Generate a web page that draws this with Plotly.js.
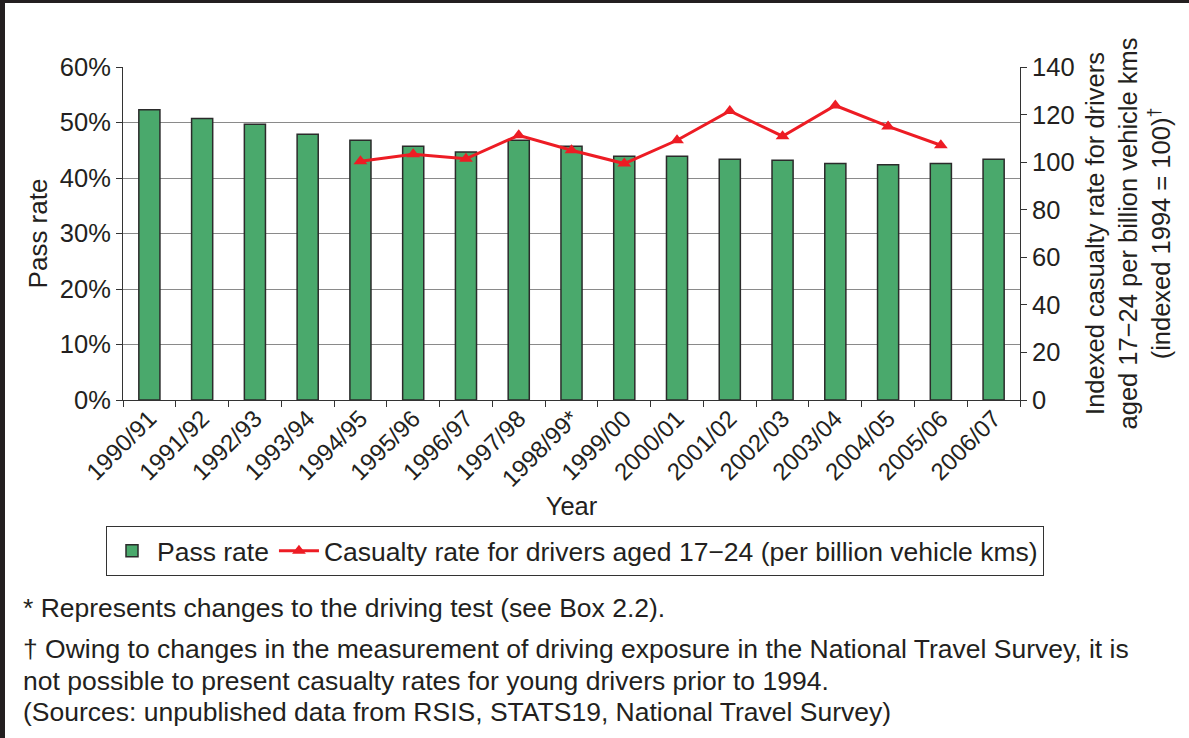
<!DOCTYPE html>
<html>
<head>
<meta charset="utf-8">
<script src="https://cdn.plot.ly/plotly-3.0.1.min.js"></script>
<style>
html,body{margin:0;padding:0;background:#fff;}
#chart{width:1189px;height:738px;}
</style>
</head>
<body>
<div id="chart"></div>
<script>
// ---- data ----
const years = ["1990/91","1991/92","1992/93","1993/94","1994/95","1995/96","1996/97","1997/98","1998/99*","1999/00","2000/01","2001/02","2002/03","2003/04","2004/05","2005/06","2006/07"];
const passRate = [52.3,50.7,49.7,47.9,46.8,45.7,44.7,46.8,45.7,43.9,43.9,43.4,43.2,42.6,42.4,42.6,43.4];
const casualtyYears = ["1994/95","1995/96","1996/97","1997/98","1998/99*","1999/00","2000/01","2001/02","2002/03","2003/04","2004/05","2005/06"];
const casualtyIndex = [100.4,103.3,101.4,111.3,105.0,99.4,109.2,121.5,110.9,123.8,115.0,107.1];
const leftTicks = [0,10,20,30,40,50,60];
const leftTickText = ["0%","10%","20%","30%","40%","50%","60%"];
const rightTicks = [0,20,40,60,80,100,120,140];
const footnotes = [
  "* Represents changes to the driving test (see Box 2.2).",
  "† Owing to changes in the measurement of driving exposure in the National Travel Survey, it is",
  "not possible to present casualty rates for young drivers prior to 1994.",
  "(Sources: unpublished data from RSIS, STATS19, National Travel Survey)"
];

// ---- geometry helpers ----
const W = 1189, H = 738;
const M = {l:123, r:169, t:67, b:338};
const PW = W - M.l - M.r, PH = H - M.t - M.b;
const px2x = p => (p - M.l) / PW;
const py2y = p => (H - M.b - p) / PH;

const FONT = '"Liberation Sans", Arial, Helvetica, sans-serif';
const TXT = '#231f20';

const traces = [
  {
    type:'bar', x: years, y: passRate, name:'Pass rate',
    marker:{color:'#4aa96c', line:{color:'#2b2b2b', width:1.5}},
    yaxis:'y', hoverinfo:'x+y'
  },
  {
    type:'scatter', mode:'lines+markers', x: casualtyYears, y: casualtyIndex,
    name:'Casualty rate for drivers aged 17\u221224 (per billion vehicle kms)',
    line:{color:'#ed1c24', width:3},
    marker:{symbol:'triangle-up', size:12, color:'#ed1c24'},
    yaxis:'y2'
  }
];

const annotations = footnotes.map((t,i)=>({
  text:t, xref:'paper', yref:'paper', x:px2x(21), y:py2y([608,649,681,712][i]),
  xanchor:'left', yanchor:'middle', showarrow:false, align:'left',
  font:{family:FONT, size:26.5, color:TXT}
}));

const layout = {
  width:W, height:H,
  margin:{l:M.l, r:M.r, t:M.t, b:M.b, pad:0},
  paper_bgcolor:'#fff', plot_bgcolor:'#fff',
  font:{family:FONT, size:25, color:TXT},
  bargap:0.6,
  showlegend:true,
  legend:{
    orientation:'h', x:px2x(106), y:py2y(526), xanchor:'left', yanchor:'top',
    bordercolor:'#333', borderwidth:1, bgcolor:'#fff',
    font:{family:FONT, size:26.5, color:TXT}, itemwidth:40, tracegroupgap:0
  },
  xaxis:{
    type:'category', tickangle:-45, tickson:'boundaries', ticks:'outside', ticklen:6,
    tickcolor:'#333', showline:true, linecolor:'#333', linewidth:1,
    tickfont:{family:FONT, size:24, color:TXT}, ticklabelstandoff:-6,
    title:{text:'Year', font:{family:FONT, size:25.5, color:TXT}, standoff:0},
    automargin:false, fixedrange:true
  },
  yaxis:{
    range:[0,60], tickvals:leftTicks, ticktext:leftTickText,
    ticks:'outside', ticklen:6, tickcolor:'#333',
    showline:true, linecolor:'#333', linewidth:1,
    showgrid:true, gridcolor:'#8a8a8a', gridwidth:1, zeroline:false,
    tickfont:{family:FONT, size:25.5, color:TXT},
    title:{text:'Pass rate', font:{family:FONT, size:26, color:TXT}, standoff:4},
    automargin:false
  },
  yaxis2:{
    range:[0,140], tickvals:rightTicks, overlaying:'y', side:'right',
    ticks:'outside', ticklen:6, tickcolor:'#333',
    showline:true, linecolor:'#333', linewidth:1, showgrid:false, zeroline:false,
    tickfont:{family:FONT, size:25.5, color:TXT},
    title:{text:'Indexed casualty rate for drivers<br>aged 17\u221224 per billion vehicle kms<br>(indexed 1994 = 100)<sup>\u2020</sup>',
      font:{family:FONT, size:25.5, color:TXT}, standoff:12},
    automargin:false
  },
  shapes:[
    {type:'rect', xref:'paper', yref:'paper', x0:px2x(0), x1:px2x(W), y0:py2y(3), y1:py2y(0),
     fillcolor:'#231f20', line:{width:0}, layer:'above'},
    {type:'rect', xref:'paper', yref:'paper', x0:px2x(0), x1:px2x(5), y0:py2y(H), y1:py2y(0),
     fillcolor:'#231f20', line:{width:0}, layer:'above'}
  ],
  annotations: annotations
};

Plotly.newPlot('chart', traces, layout, {displayModeBar:false, staticPlot:true});
</script>
</body>
</html>
